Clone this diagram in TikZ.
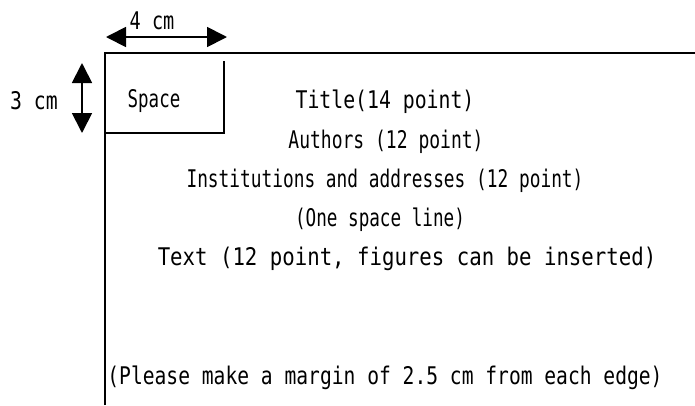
\documentclass[tikz,border=0pt]{standalone}
\usepackage{fontspec}
\setmainfont{DejaVu Sans Mono}
\usetikzlibrary{arrows.meta}
\newcommand{\tallt}[2]{\scalebox{#1}[1.35]{#2}}
\begin{document}
\begin{tikzpicture}[x=1pt,y=-1pt,
  lbl/.style={inner sep=0pt,font=\fontsize{18}{20}\selectfont},
  frame/.style={line width=1.4pt},
  dimarrow/.style={line width=1.8pt,{Triangle[length=20pt,width=20pt]}-{Triangle[length=20pt,width=20pt]}}]
\useasboundingbox (0,0) rectangle (695,405);
% page frame
\coordinate (ptl) at (105,53);
\coordinate (ptr) at (695,53);
\coordinate (pbl) at (105,405);
\draw[frame] (pbl) -- (ptl) -- (ptr);
% space box
\coordinate (sbr) at (224,133);
\coordinate (sbt) at (224,61);
\coordinate (sbl) at (105,133);
\draw[frame] (sbt) -- (sbr) -- (sbl);
% dimension arrows
\coordinate (hA) at (106,37);
\coordinate (hB) at (227,37);
\draw[dimarrow] (hA) -- (hB);
\coordinate (vA) at (82,63);
\coordinate (vB) at (82,133);
\draw[dimarrow] (vA) -- (vB);
% labels
\node[lbl] (w) at (152,21) {\tallt{1.03}{4 cm}};
\node[lbl] (h) at (34,101) {\tallt{1.1}{3 cm}};
\node[lbl] (sp) at (154,101) {\tallt{0.97}{Space}};
\node[lbl] (title) at (385,102) {\tallt{1.1}{Title(14 point)}};
\node[lbl] (auth) at (386,142) {\tallt{1.0}{Authors (12 point)}};
\node[lbl] (inst) at (385,181) {\tallt{0.99}{Institutions and addresses (12 point)}};
\node[lbl] (one) at (380,220) {\tallt{0.98}{(One space line)}};
\node[lbl] (txt) at (407,259) {\tallt{1.15}{Text (12 point, figures can be inserted)}};
\node[lbl] (marg) at (385,378) {\tallt{1.09}{(Please make a margin of 2.5 cm from each edge)}};
\end{tikzpicture}
\end{document}
